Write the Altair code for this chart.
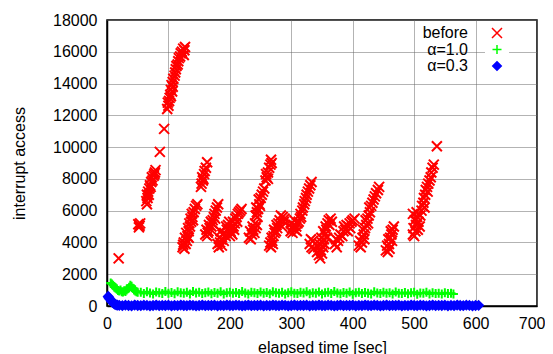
import altair as alt
import pandas as pd

series = ["before", "α=1.0", "α=0.3"]
colors = ["#ff0000", "#00ff00", "#0000ff"]
shapes = ["M-1,-1L1,1M-1,1L1,-1", "M-0.9,0L0.9,0M0,-0.9L0,0.9", "M0,-0.85L0.85,0L0,0.85L-0.85,0Z"]

x_ticks = [0, 100, 200, 300, 400, 500, 600, 700]
y_ticks = [0, 2000, 4000, 6000, 8000, 10000, 12000, 14000, 16000, 18000]

before_pts = [
    (19, 3000),
    (51, 5150), (53, 5050), (54, 5200), (52, 4950),
    (65, 6400), (64, 6600), (66, 6800), (65, 7000), (67, 7200), (68, 7000), (69, 7400), (70, 7600), (71, 7500),
    (72, 7800), (73, 8100), (74, 7900), (76, 8200), (77, 8300), (78, 8400), (79, 8550),
    (86, 9700), (93, 11150),
    (98, 12400), (99, 12800), (100, 12600), (101, 12900), (102, 13100), (103, 13300), (104, 13200), (104, 13600),
    (105, 13900), (106, 13500), (107, 13800), (107, 14100), (108, 14300), (110, 14500), (111, 14700), (112, 14900),
    (113, 15100), (115, 15200), (116, 15400), (117, 15600), (119, 15700), (120, 15900), (122, 16000), (124, 16200),
    (125, 15800), (126, 16100), (127, 16300),
    (123, 3700), (124, 3850), (126, 3600), (125, 4000), (128, 3900), (127, 4300), (130, 4100), (131, 4400),
    (129, 4600), (133, 4300), (133, 4700), (132, 4900), (135, 5000), (134, 5200), (137, 5300), (136, 5500),
    (140, 5400), (139, 5600), (138, 5800), (141, 5900), (143, 6100), (145, 6300), (147, 6400),
    (153, 7500), (154, 7700), (156, 7900), (157, 8000), (155, 8100), (158, 8300), (159, 8500), (161, 8700), (163, 9050),
    (160, 4500), (163, 4400), (164, 4600), (165, 4700), (162, 4800), (167, 4900), (166, 5100), (170, 5000),
    (169, 5300), (171, 5200), (172, 5400), (174, 5600), (176, 5500), (175, 5800), (177, 6000), (179, 6200), (181, 6400),
    (180, 3900), (182, 3700), (184, 4000), (183, 4300), (186, 4200), (187, 3800), (188, 4500), (185, 4700),
    (190, 4100), (191, 4600), (193, 4400), (195, 4800), (194, 5000), (197, 5100), (199, 5300),
    (200, 4400), (201, 4700), (202, 4600), (204, 4500), (203, 4900), (207, 4800), (206, 5000), (205, 5300),
    (208, 5200), (209, 5500), (212, 5300), (211, 5600), (213, 5800), (215, 5900), (217, 6000), (219, 6100),
    (231, 4300), (234, 4200), (236, 4500), (233, 4700), (238, 4800), (240, 4600), (237, 5000), (242, 4900),
    (241, 5200), (244, 5100),
    (245, 5600), (242, 5700), (244, 5900), (243, 6200), (246, 6100), (249, 6300), (248, 6400), (247, 6700),
    (250, 6800), (252, 7000), (254, 7200), (256, 7400), (258, 7900), (262, 8000), (260, 8100), (259, 8300),
    (262, 8400), (264, 8700), (266, 8900), (268, 9000), (267, 9200),
    (264, 3800), (267, 3700), (270, 3900), (266, 4000), (269, 4100), (268, 4300), (271, 4400), (273, 4600),
    (272, 4800), (275, 4700), (277, 4900), (276, 5100), (279, 5200), (281, 5400), (285, 5000), (288, 5300),
    (289, 5500), (286, 5600), (283, 5700),
    (299, 4700), (302, 4600), (309, 4700), (301, 4900), (306, 4800), (304, 5100), (308, 5000), (300, 5200),
    (310, 5200), (305, 5400), (312, 5300), (314, 5500), (316, 5600), (315, 5800), (318, 6000), (319, 6200),
    (321, 6400), (322, 6600), (324, 6800), (325, 7000), (327, 7200), (329, 7400), (331, 7600), (333, 7800),
    (330, 3900), (333, 3700), (336, 3600), (335, 4100), (332, 4200),
    (342, 3400), (345, 3200), (347, 3000), (344, 3700), (348, 3500), (350, 3300), (346, 3900), (350, 4000),
    (352, 3700), (354, 3900), (349, 4300), (353, 4200), (358, 4300), (355, 4500), (352, 4700), (357, 4800),
    (356, 5000), (359, 5200), (362, 5100), (361, 5400), (364, 5500), (366, 5300),
    (371, 3900), (374, 3700), (373, 4200), (376, 4100), (378, 4300),
    (380, 4500), (383, 4400), (385, 4700), (392, 4700), (388, 4800), (386, 5000), (390, 5100), (393, 5000),
    (396, 4900), (395, 5200), (398, 5300), (400, 5400), (403, 5500),
    (410, 3800), (413, 3700), (412, 4100), (415, 4000), (419, 4200), (416, 4300), (418, 4500), (417, 4800),
    (420, 4900), (422, 5100), (425, 5200), (421, 5400), (424, 5500), (426, 5700), (428, 5900), (427, 6200),
    (430, 6300), (432, 6500), (434, 6700), (436, 6900), (438, 7100), (441, 7300), (443, 7500),
    (454, 3500), (457, 3400), (460, 3600), (456, 3800), (459, 3900), (458, 4200), (464, 4100), (461, 4300),
    (463, 4500), (462, 4700), (465, 4800), (467, 5000),
    (498, 4500), (500, 4400), (502, 4700), (506, 4800), (499, 4900), (509, 5000), (503, 5100), (507, 5300),
    (501, 5400), (505, 5600), (510, 5700), (498, 5800), (504, 5900), (512, 6000), (517, 6200), (513, 6300),
    (515, 6500), (516, 6800), (518, 7000), (522, 7200), (519, 7300), (521, 7500), (523, 7700), (525, 7900),
    (527, 8100), (528, 8400), (530, 8700), (532, 8900),
    (537, 10050),
]

alpha10_pts = [
    (6, 1450), (8, 1380), (10, 1300), (12, 1200), (14, 1120), (16, 1050), (18, 980), (20, 940), (22, 1000),
    (24, 900), (26, 880), (28, 960), (30, 920), (32, 1000), (34, 1080), (36, 1180), (38, 1300), (40, 1250),
    (42, 1120), (44, 1000), (46, 940), (48, 900), (50, 860),
    (55, 860), (60, 790), (65, 900), (70, 820), (75, 760), (80, 880), (85, 840), (90, 790), (95, 920), (100, 810),
    (105, 850), (110, 770), (115, 890), (120, 830), (125, 800), (130, 870), (135, 750), (140, 910), (145, 820), (150, 860),
    (155, 790), (160, 840), (165, 880), (170, 770), (175, 850), (180, 810), (185, 900), (190, 760), (195, 830), (200, 870),
    (205, 800), (210, 850), (215, 780), (220, 920), (225, 820), (230, 760), (235, 860), (240, 840), (245, 790), (250, 880),
    (255, 810), (260, 850), (265, 770), (270, 900), (275, 830), (280, 800), (285, 870), (290, 750), (295, 840), (300, 890),
    (305, 810), (310, 780), (315, 860), (320, 820), (325, 900), (330, 770), (335, 840), (340, 800), (345, 880), (350, 760),
    (355, 830), (360, 860), (365, 790), (370, 910), (375, 820), (380, 770), (385, 850), (390, 800), (395, 880), (400, 740),
    (405, 830), (410, 870), (415, 790), (420, 850), (425, 810), (430, 760), (435, 890), (440, 820), (445, 780), (450, 860),
    (455, 800), (460, 840), (465, 750), (470, 880), (475, 810), (480, 790), (485, 850), (490, 770), (495, 830), (500, 860),
    (505, 740), (510, 820), (515, 800), (520, 870), (525, 760), (530, 840), (535, 790), (540, 810), (545, 750), (550, 830),
    (555, 780), (560, 800), (564, 760),
]

alpha03_pts = [
    (2, 600), (3, 520), (5, 420), (7, 320), (9, 230), (11, 160), (13, 110), (15, 70), (17, 50),
    (20, 40), (25, 20), (30, 50), (35, 30), (40, 10), (45, 60), (50, 30), (55, 20), (60, 50), (65, 40),
    (70, 10), (75, 30), (80, 60), (85, 20), (90, 40), (95, 30), (100, 50), (105, 10), (110, 40), (115, 20),
    (120, 60), (125, 30), (130, 20), (135, 50), (140, 40), (145, 10), (150, 30), (155, 60), (160, 20), (165, 40),
    (170, 30), (175, 50), (180, 10), (185, 40), (190, 20), (195, 60), (200, 30), (205, 20), (210, 50), (215, 40),
    (220, 10), (225, 30), (230, 60), (235, 20), (240, 40), (245, 30), (250, 50), (255, 10), (260, 40), (265, 20),
    (270, 60), (275, 30), (280, 20), (285, 50), (290, 40), (295, 10), (300, 30), (305, 60), (310, 20), (315, 40),
    (320, 30), (325, 50), (330, 10), (335, 40), (340, 20), (345, 60), (350, 30), (355, 20), (360, 50), (365, 40),
    (370, 10), (375, 30), (380, 60), (385, 20), (390, 40), (395, 30), (400, 50), (405, 10), (410, 40), (415, 20),
    (420, 60), (425, 30), (430, 20), (435, 50), (440, 40), (445, 10), (450, 30), (455, 60), (460, 20), (465, 40),
    (470, 30), (475, 50), (480, 10), (485, 40), (490, 20), (495, 60), (500, 30), (505, 20), (510, 50), (515, 40),
    (520, 10), (525, 30), (530, 60), (535, 20), (540, 40), (545, 30), (550, 50), (555, 10), (560, 40), (565, 20),
    (570, 60), (575, 30), (580, 20), (585, 50), (590, 40), (595, 10), (600, 30), (605, 40),
]

rows = []
for name, pts in zip(series, [before_pts, alpha10_pts, alpha03_pts]):
    for t, v in pts:
        rows.append({"t": t, "v": v, "s": name})
df = pd.DataFrame(rows)

FONT = "Liberation Sans"
last_x = "datum.value === 700"

x_axis = alt.Axis(
    values=x_ticks, format="d", title="elapsed time [sec]", grid=True, gridDash=[1, 1], gridColor="#666",
    gridWidth=1, ticks=False, labelFontSize=16, labelFont=FONT, labelColor="black", labelPadding=9,
    labelFlush=False, labelOverlap=False, domainColor="black", domainWidth=1.5,
    labelAlign={"condition": {"test": last_x, "value": "right"}, "value": "center"},
    labelOffset={"condition": {"test": last_x, "value": 8}, "value": 0},
    titleFontSize=16, titleFont=FONT, titleFontWeight="normal", titleColor="black",
    titleX=215, titleY=46, titleBaseline="alphabetic", titleAlign="center",
)
y_axis = alt.Axis(
    values=y_ticks, format="d", title="interrupt access", grid=True, gridDash=[1, 1], gridColor="#666",
    gridWidth=1, ticks=False, labelFontSize=16, labelFont=FONT, labelColor="black", labelPadding=10,
    labelFlush=False, labelOverlap=False, domainColor="black", domainWidth=1.5,
    titleFontSize=16, titleFont=FONT, titleFontWeight="normal", titleColor="black",
    titleX=-83, titleY=143, titleAngle=270, titleBaseline="alphabetic", titleAlign="center",
)

legend = alt.Legend(title=None, orient="none", legendX=378, legendY=1)

chart = alt.Chart(df).mark_point(filled=True, strokeWidth=2, opacity=1, size=100).encode(
    x=alt.X("t:Q", scale=alt.Scale(domain=[0, 700], nice=False, zero=False), axis=x_axis),
    y=alt.Y("v:Q", scale=alt.Scale(domain=[0, 18000], nice=False), axis=y_axis),
    fill=alt.Fill("s:N", scale=alt.Scale(domain=series, range=colors), legend=legend),
    stroke=alt.Stroke("s:N", scale=alt.Scale(domain=series, range=colors), legend=legend),
    shape=alt.Shape("s:N", scale=alt.Scale(domain=series, range=shapes), legend=legend),
).properties(
    width=430, height=286,
    autosize=alt.AutoSizeParams(type="none"),
    padding={"left": 99, "top": 12, "right": 8, "bottom": 48},
).configure_view(
    stroke="black", strokeWidth=1.5
).configure_legend(
    labelAlign="right", symbolOffset=0, labelOffset={"expr": "-37"},
    labelFontSize=16, labelFont=FONT, labelColor="black", rowPadding=0.5,
    symbolStrokeWidth=1.5, symbolSize=100, padding=4, labelLimit=0,
    fillColor="white",
)

chart.save("out.html", embed_options={"renderer": "svg", "actions": False})
